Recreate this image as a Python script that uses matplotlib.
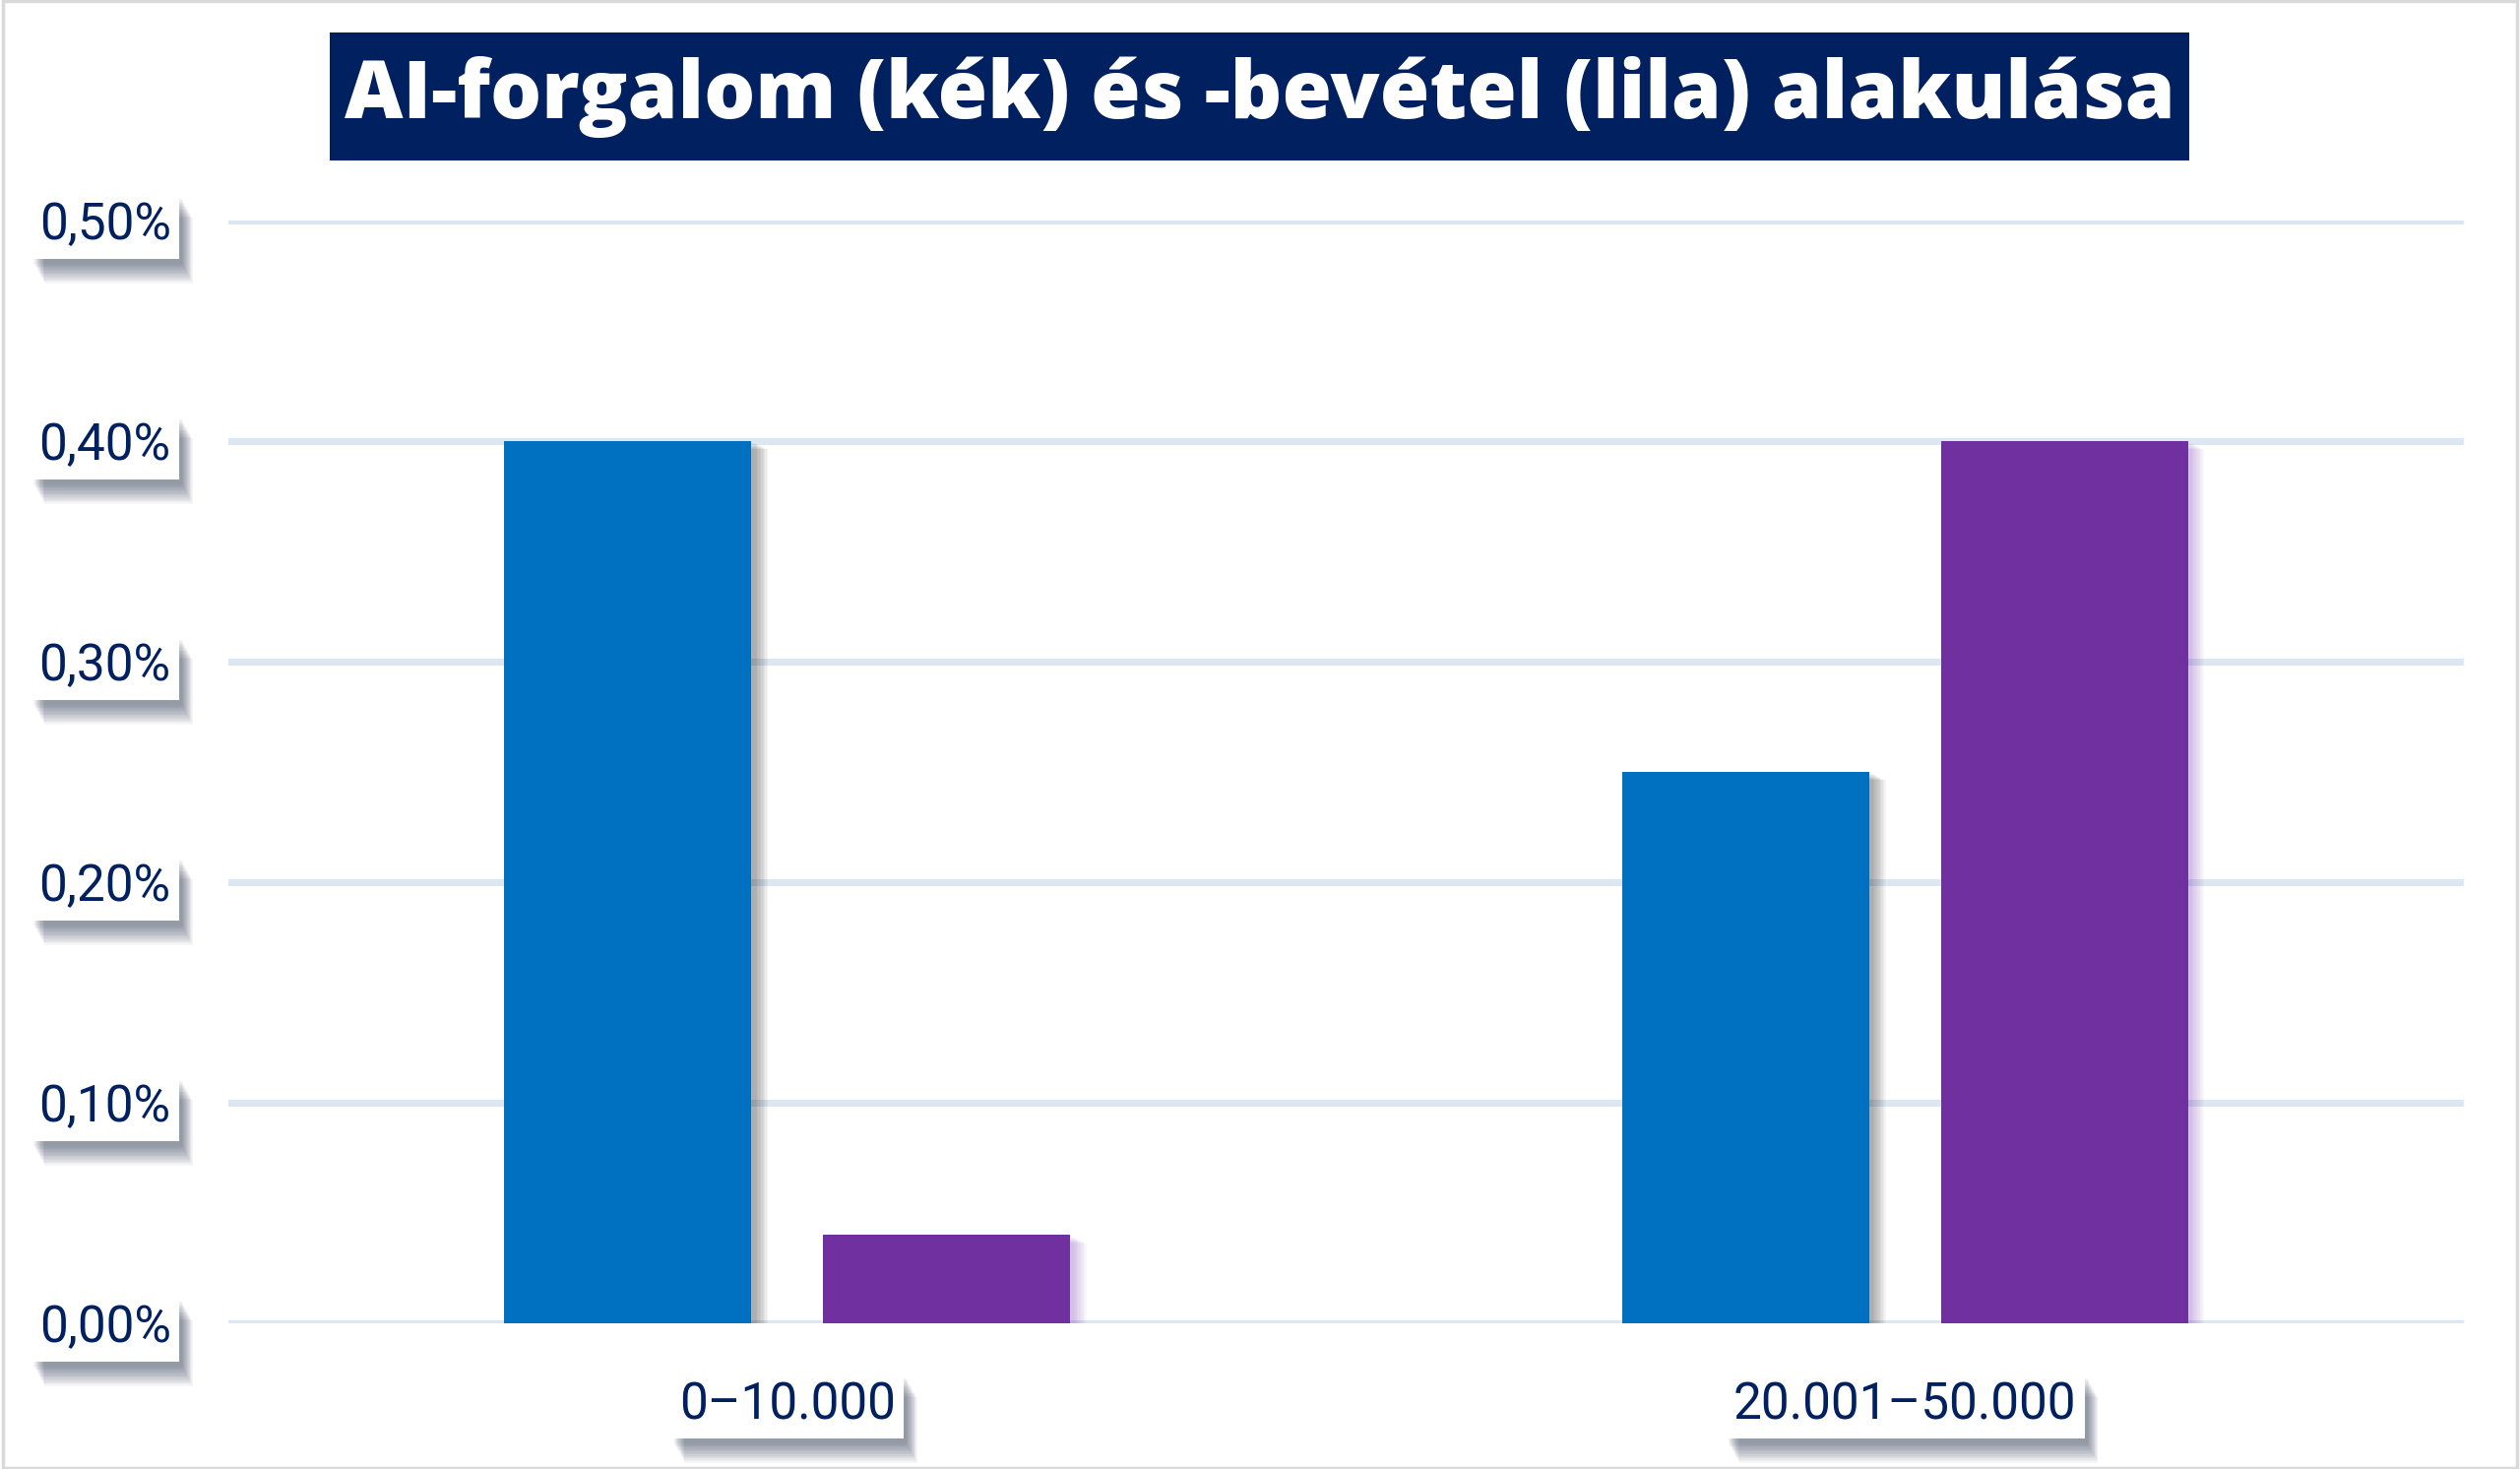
import matplotlib
matplotlib.use("Agg")
import matplotlib.pyplot as plt
import matplotlib.patheffects as pe
from matplotlib.patches import Rectangle
import numpy as np

# ---- data ----
categories = ['0–10.000', '20.001–50.000']
forgalom = [0.40, 0.25]   # kék
bevetel = [0.04, 0.40]    # lila
yticks = [0.0, 0.1, 0.2, 0.3, 0.4, 0.5]
ytick_labels = ['0,00%', '0,10%', '0,20%', '0,30%', '0,40%', '0,50%']
title = 'AI-forgalom (kék) és -bevétel (lila) alakulása'

BLUE = '#0070c0'
PURPLE = '#7030a0'
NAVY = '#002060'
GRID = '#dbe7f3'

W, H = 2560, 1492
fig = plt.figure(figsize=(W / 100, H / 100), dpi=100)
fig.patch.set_facecolor('white')

# figure border
fig.add_artist(Rectangle((0.001, 0.001), 0.998, 0.998, transform=fig.transFigure,
                         fill=False, edgecolor='#d9d9d9', linewidth=2.5))

ax = fig.add_axes([232 / W, 1 - 1344 / H, (2503 - 232) / W, (1344 - 224) / H])
ax.set_facecolor('none')

x = np.arange(len(categories))
bw = 0.221
off = 0.1425

def bar_shadow(col, a):
    effs = [pe.SimplePatchShadow(offset=(k, -k * 0.5), shadow_rgbFace=col, alpha=a)
            for k in [12, 11, 10, 9, 8, 7, 6, 5, 4, 3]]
    return effs + [pe.Normal()]

b1 = ax.bar(x - off, forgalom, width=bw, color=BLUE, zorder=3)
b2 = ax.bar(x + off, bevetel, width=bw, color=PURPLE, zorder=3)
for p in b1:
    p.set_path_effects(bar_shadow('#404040', 0.05))
for p in b2:
    p.set_path_effects(bar_shadow('#7a40b0', 0.035))

ax.set_xlim(-0.5, 1.5)
ax.set_ylim(0, 0.5)
ax.set_yticks(yticks)
ax.set_yticklabels(ytick_labels)
ax.set_xticks(x)
ax.set_xticklabels(categories)
ax.yaxis.grid(True, color=GRID, linewidth=5, zorder=0)
ax.xaxis.grid(False)
ax.set_axisbelow(True)
for s in ax.spines.values():
    s.set_visible(False)
ax.tick_params(axis='both', length=0)
ax.tick_params(axis='y', pad=42)
ax.tick_params(axis='x', pad=42)

label_shadow = [pe.SimplePatchShadow(offset=(k * 0.55, -k), shadow_rgbFace='#1e2a48', alpha=0.04)
                for k in [18, 17, 16, 15, 14, 13, 12, 11, 10, 9, 8, 7, 6, 5, 4]] + [pe.Normal()]

for lbl in ax.get_yticklabels() + ax.get_xticklabels():
    lbl.set_fontfamily('Roboto')
    lbl.set_fontweight('normal')
    lbl.set_fontsize(37)
    lbl.set_color(NAVY)
    lbl.set_bbox(dict(boxstyle='square,pad=0.16', facecolor='white', edgecolor='none',
                      path_effects=label_shadow))

# title box
fig.add_artist(Rectangle((335 / W, 1 - 163 / H), (2224 - 335) / W, 130 / H,
                         transform=fig.transFigure, facecolor=NAVY, edgecolor='none'))
fig.text(1279.5 / W, 1 - 99 / H, title, ha='center', va='center', color='white',
         fontsize=59, fontweight='heavy', family='Open Sans')

fig.savefig('out.png', dpi=100, facecolor='white')
